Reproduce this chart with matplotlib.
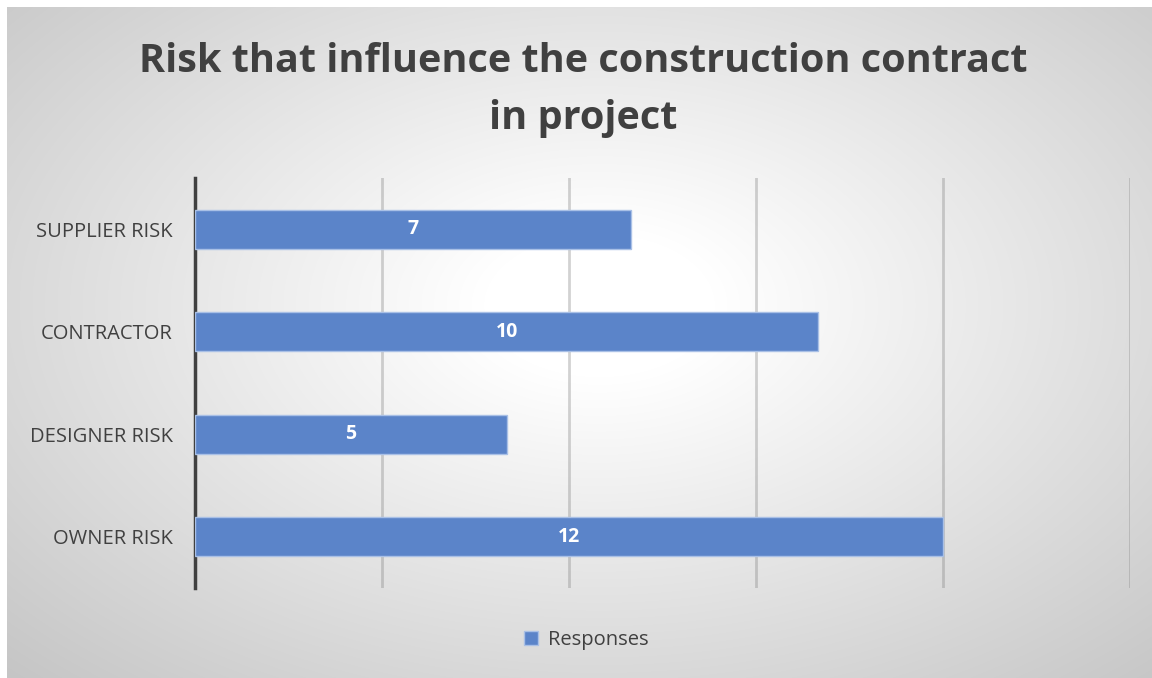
import numpy as np
import matplotlib
matplotlib.use("Agg")
import matplotlib.pyplot as plt
from matplotlib.patches import Patch

categories = ["OWNER RISK", "DESIGNER RISK", "CONTRACTOR", "SUPPLIER RISK"]
responses = [12, 5, 10, 7]
series_name = "Responses"
title = "Risk that influence the construction contract\nin project"

W, H = 1152, 678
fig = plt.figure(figsize=(W / 100, H / 100), dpi=100)
fig.patch.set_facecolor("#c8c8c8")

# background radial gradient
yy, xx = np.mgrid[0:H, 0:W]
cx, cy = 0.52 * W, 0.45 * H
d = np.sqrt(((xx - cx) / W) ** 2 + ((yy - cy) / H) ** 2 * 0.9)
val = 1.0 - 0.36 * np.clip(d - 0.10, 0, None)
val = np.clip(val, 0.74, 1.0)
val[:7, :] = 1.0
val[:, :7] = 1.0
img = (np.dstack([val, val, val]) * 255).astype(np.uint8)
fig.figimage(img, xo=0, yo=0, origin="upper", zorder=-10)

font = "Open Sans"
ax = fig.add_axes([195 / W, 1 - 588 / H, (1130 - 195) / W, (588 - 178) / H])
ax.set_zorder(5)
ax.patch.set_alpha(0)
ypos = np.arange(len(categories))
bars = ax.barh(ypos, responses, height=0.38, color="#5b84c9",
               edgecolor="#a9c0e6", linewidth=1.0, zorder=3)
for y, v in zip(ypos, responses):
    ax.text(v / 2, y, str(v), ha="center", va="center", color="white",
            fontsize=14, fontweight="bold", family=font, zorder=4)
ax.set_xlim(0, 15)
ax.set_ylim(-0.5, 3.5)
ax.set_xticks([3, 6, 9, 12, 15])
ax.set_xticklabels([])
ax.tick_params(axis="x", length=0)
ax.grid(axis="x", color="#808080", alpha=0.35, linewidth=2, zorder=1)
ax.set_yticks(ypos)
ax.set_yticklabels(categories, family=font, fontsize=14.5, color="#404040")
ax.tick_params(axis="y", length=0, pad=16)
for s in ["top", "right", "bottom"]:
    ax.spines[s].set_visible(False)
ax.spines["left"].set_color("#404040")
ax.spines["left"].set_linewidth(2.5)

fig.text(583 / W, 1 - 90 / H, title, ha="center", va="center",
         fontsize=28.5, fontweight="bold", color="#404040", family=font,
         linespacing=1.6)

leg = fig.legend(handles=[Patch(facecolor="#5b84c9", edgecolor="#a9c0e6")],
                 labels=[series_name], loc="center", bbox_to_anchor=(586 / W, 1 - 640 / H),
                 frameon=False, prop={"family": font, "size": 14.5},
                 handlelength=0.7, handleheight=0.7, handletextpad=0.5)
for t in leg.get_texts():
    t.set_color("#404040")

fig.savefig("out.png", dpi=100)
